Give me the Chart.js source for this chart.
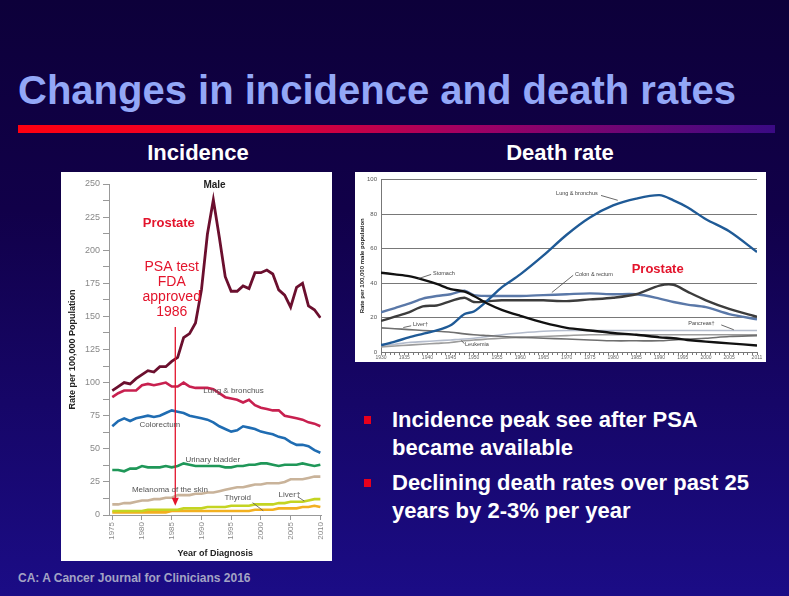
<!DOCTYPE html>
<html>
<head>
<meta charset="utf-8">
<title>Changes in incidence and death rates</title>
<script src="https://cdn.jsdelivr.net/npm/chart.js@4.4.1/dist/chart.umd.min.js"></script>
<style>
  html, body { margin: 0; padding: 0; }
  body {
    width: 789px; height: 596px; overflow: hidden; position: relative;
    background: linear-gradient(to bottom, #0d003a 0%, #110049 35%, #1b0c86 100%);
    font-family: "Liberation Sans", Arial, sans-serif;
  }
  .abs { position: absolute; white-space: nowrap; }
  #title { left: 18px; top: 70px; font-size: 40px; line-height: 40px; font-weight: bold; color: #93a7f7; }
  #rule { left: 18px; top: 125px; width: 757px; height: 8px;
    background: linear-gradient(to right, #ff0010 0%, #e8002c 30%, #a00064 60%, #3a0a84 100%); }
  .sub { top: 142px; width: 200px; text-align: center; font-size: 22px; line-height: 22px; font-weight: bold; color: #fff; }
  #incPanel { left: 61px; top: 172px; width: 271px; height: 389px; background: #fff; }
  #deathPanel { left: 355px; top: 172px; width: 411px; height: 190px; background: #fff; }
  .bullet { left: 364px; width: 7px; height: 8px; background: #e8001c; }
  .btext { left: 392px; font-size: 22px; line-height: 28px; font-weight: bold; color: #fff; }
  #source { left: 18px; top: 572px; font-size: 12px; line-height: 12px; font-weight: bold; color: #a3a3c4; }
</style>
</head>
<body>
<div id="title" class="abs">Changes in incidence and death rates</div>
<div id="rule" class="abs"></div>
<div class="abs sub" style="left:98px">Incidence</div>
<div class="abs sub" style="left:460px">Death rate</div>

<div id="incPanel" class="abs"><canvas id="incChart" width="271" height="389"></canvas></div>
<div id="deathPanel" class="abs"><canvas id="deathChart" width="411" height="190"></canvas></div>

<div class="abs bullet" style="top:416px"></div>
<div class="abs btext" style="top:406px">Incidence peak see after PSA<br>became available</div>
<div class="abs bullet" style="top:479px"></div>
<div class="abs btext" style="top:469px">Declining death rates over past 25<br>years by 2-3% per year</div>

<div id="source" class="abs">CA: A Cancer Journal for Clinicians 2016</div>

<script>
// ---- incidence (male), rate per 100,000 ----
const incYears = [1975,1976,1977,1978,1979,1980,1981,1982,1983,1984,
                  1985,1986,1987,1988,1989,1990,1991,1992,1993,1994,
                  1995,1996,1997,1998,1999,2000,2001,2002,2003,2004,
                  2005,2006,2007,2008,2009,2010];
const incProstate   = [94,97,100,99,103,106,109,108,112,112, 116,119,134,137,145,170,212,238,210,180, 169,169,173,171,183,183,185,182,170,166, 157,172,175,158,155,149];
const incLung       = [89,92,94,94,94,98,99,98,99,100, 97,97,100,97,96,96,96,95,92,89, 88,87,85,87,83,81,80,79,79,75, 74,73,72,70,69,67];
const incColorectum = [67,71,73,71,73,74,75,74,75,77, 79,78,77,75,74,73,72,70,67,65, 63,64,67,66,65,63,62,61,59,58, 55,53,53,52,49,47];
const incBladder    = [34,34,33,35,35,37,36,36,36,37, 36,37,39,38,37,37,37,37,37,36, 36,37,37,38,38,39,39,38,37,38, 38,38,39,38,37,38];
const incMelanoma   = [8,8,9,9,10,11,11,12,12,13, 13,15,15,15,16,16,17,17,18,19, 20,21,21,22,23,23,24,24,24,25, 27,27,27,28,29,29];
const incLiver      = [3,3,3,3,3,3,4,4,4,4, 4,4,5,5,5,5,6,6,6,6, 7,7,7,7,8,8,8,8,9,9, 10,10,10,11,12,12];
const incThyroid    = [2,2,2,2,2,2,2,2,2,2, 3,3,3,3,3,3,3,3,3,3, 3,3,3,3,4,4,4,4,5,5, 5,5,6,6,7,6];
const incYearTicks  = [1975,1980,1985,1990,1995,2000,2005,2010];
const incRateTicks  = [0,12.5,25,37.5,50,62.5,75,87.5,100,112.5,125,137.5,150,162.5,175,187.5,200,212.5,225,237.5,250];

// ---- death rate (male), rate per 100,000 ----
const deathYears    = [1930,1933,1936,1939,1942,1945,1948,1950,1953,1956,1960,1965,1970,1975,1980,1985,1990,1993,1996,2000,2005,2011];
const deathLung     = [4,6,8.5,10.5,12.5,15.5,22,23.5,30,37.5,45,56,68,78,85,89,91,88,84,77,70,58];
const deathStomach  = [46,45,44,42,39.5,36.5,35,32.5,28,24.5,21,17,14,12.5,11,10,8.5,8,7,6,5,3.8];
const deathColon    = [23,25.5,28,31,32.5,33.5,35.5,33,32.5,32.5,32.5,33,33.5,34,33.5,33.5,31,29,27.5,26,22,19];
const deathProstate = [18,20.5,23,26.5,27,29.5,31.5,29,29.5,30,30,30,29.5,30.5,31.5,33.5,38.5,39,35,30,25,20.5];
const deathPancreas = [4,4.5,5.5,6,6.5,7,7.5,8,9,10,11,12,12.5,12.5,12.5,12.5,12.5,12.5,12.5,12.5,12.5,12.5];
const deathLiver    = [14,13.5,13,12.5,12,11.5,10.5,10,9.5,9,8.5,8,7.5,7,6.5,6.5,6.5,7,7.5,8,9,9.5];
const deathLeukemia = [3,3.5,4,4.5,5,5.5,6.5,7,7.5,8,8.5,9,9.5,10,10,10,10,10,10,10,10,10];
const deathYearLabels = [1930,1935,1940,1945,1950,1955,1960,1965,1970,1975,1980,1985,1990,1995,2000,2005,2011];
const deathRateTicks  = [0,20,40,60,80,100];

const FONT = '"Liberation Sans", Arial, sans-serif';
Chart.defaults.font.family = FONT;

function pts(xs, ys) {
  return xs.map((x, i) => ({ x: x, y: ys[i] }));
}

function line(label, xs, ys, color, width) {
  return { label: label, data: pts(xs, ys), borderColor: color, borderWidth: width,
           pointRadius: 0, tension: 0, fill: false };
}

// small helpers for the text drawn on top of the plots
function say(ctx, chart, text, xv, yv, font, color, align) {
  const x = chart.scales.x.getPixelForValue(xv);
  const y = chart.scales.y.getPixelForValue(yv);
  ctx.font = font;
  ctx.fillStyle = color;
  ctx.textAlign = align || 'center';
  ctx.textBaseline = 'middle';
  ctx.fillText(text, x, y);
}
function lead(ctx, chart, x1, y1, x2, y2, color) {
  const sx = chart.scales.x, sy = chart.scales.y;
  ctx.strokeStyle = color || '#555';
  ctx.lineWidth = 0.8;
  ctx.beginPath();
  ctx.moveTo(sx.getPixelForValue(x1), sy.getPixelForValue(y1));
  ctx.lineTo(sx.getPixelForValue(x2), sy.getPixelForValue(y2));
  ctx.stroke();
}

const incNotes = {
  id: 'incNotes',
  afterDatasetsDraw(chart) {
    const ctx = chart.ctx;
    ctx.save();
    say(ctx, chart, 'Male', 1992.2, 249, 'bold 10px ' + FONT, '#222');
    say(ctx, chart, 'Prostate', 1984.5, 220.5, 'bold 13px ' + FONT, '#e3142c');
    const red = '#e3142c';
    say(ctx, chart, 'PSA test', 1985, 187.3, '14px ' + FONT, red);
    say(ctx, chart, 'FDA', 1985, 176, '14px ' + FONT, red);
    say(ctx, chart, 'approved', 1985, 164.7, '14px ' + FONT, red);
    say(ctx, chart, '1986', 1985, 153.3, '14px ' + FONT, red);

    // arrow down to the x axis
    const ax = chart.scales.x.getPixelForValue(1985.6);
    const ay1 = chart.scales.y.getPixelForValue(142);
    const ay2 = chart.scales.y.getPixelForValue(7);
    ctx.strokeStyle = red;
    ctx.lineWidth = 1.3;
    ctx.beginPath();
    ctx.moveTo(ax, ay1);
    ctx.lineTo(ax, ay2 - 6);
    ctx.stroke();
    ctx.fillStyle = red;
    ctx.beginPath();
    ctx.moveTo(ax - 3.5, ay2 - 8);
    ctx.lineTo(ax + 3.5, ay2 - 8);
    ctx.lineTo(ax, ay2);
    ctx.closePath();
    ctx.fill();

    const g = '#555', f = '8px ' + FONT;
    say(ctx, chart, 'Lung & bronchus', 1995.4, 93.7, f, g);
    say(ctx, chart, 'Colorectum', 1983, 68, f, g);
    say(ctx, chart, 'Urinary bladder', 1991.9, 41.5, f, g);
    say(ctx, chart, 'Melanoma of the skin', 1984.7, 18.9, f, g);
    say(ctx, chart, 'Thyroid', 1996.1, 12.8, f, g);
    lead(ctx, chart, 1998.6, 9.3, 2000.4, 3.2, g);
    say(ctx, chart, 'Liver\u2020', 2004.8, 15.6, f, g);
    lead(ctx, chart, 2006.2, 13.8, 2007.3, 10.5, g);
    ctx.restore();
  }
};

new Chart(document.getElementById('incChart'), {
  type: 'line',
  data: {
    datasets: [
      line('Prostate', incYears, incProstate, '#6b0f2e', 2.8),
      line('Lung & bronchus', incYears, incLung, '#c8204f', 2.6),
      line('Colorectum', incYears, incColorectum, '#1f6cb2', 2.6),
      line('Urinary bladder', incYears, incBladder, '#1f9758', 2.6),
      line('Melanoma of the skin', incYears, incMelanoma, '#c9b39a', 2.6),
      line('Liver', incYears, incLiver, '#c4d422', 2.6),
      line('Thyroid', incYears, incThyroid, '#f2b020', 2.6)
    ]
  },
  options: {
    responsive: false,
    animation: false,
    layout: { padding: { top: 12, right: 10, left: 0, bottom: 0 } },
    plugins: { legend: { display: false }, tooltip: { enabled: false } },
    scales: {
      x: {
        type: 'linear', min: 1974.45, max: 2010.17,
        afterBuildTicks: s => { s.ticks = incYearTicks.map(v => ({ value: v })); },
        afterFit: s => { s.height = 46; },
        ticks: { autoSkip: false, minRotation: 90, maxRotation: 90, padding: 2,
                 font: { size: 8 }, color: '#888', callback: v => String(v) },
        grid: { drawOnChartArea: false, tickLength: 5, color: '#999' },
        border: { color: '#999' },
        title: { display: true, text: 'Year of Diagnosis', color: '#222',
                 font: { size: 9, weight: 'bold' }, padding: { top: 0, bottom: 2 } }
      },
      y: {
        min: 0, max: 250,
        afterBuildTicks: s => { s.ticks = incRateTicks.map(v => ({ value: v })); },
        afterFit: s => { s.width = 48; },
        ticks: { autoSkip: false, padding: 3, font: { size: 9 }, color: '#888',
                 callback: v => (v % 25 === 0 ? String(v) : '') },
        grid: { drawOnChartArea: false, tickLength: 6, color: '#999' },
        border: { color: '#999' },
        title: { display: true, text: 'Rate per 100,000 Population', color: '#222',
                 font: { size: 9, weight: 'bold' }, padding: { top: 6, bottom: 0 } }
      }
    }
  },
  plugins: [incNotes]
});

const deathNotes = {
  id: 'deathNotes',
  afterDatasetsDraw(chart) {
    const ctx = chart.ctx;
    ctx.save();
    const g = '#444', f = '5.5px ' + FONT;
    say(ctx, chart, 'Lung & bronchus', 1972.2, 91.9, f, g);
    lead(ctx, chart, 1977.4, 90.8, 1981, 88, g);
    say(ctx, chart, 'Stomach', 1941.2, 45.3, f, g, 'left');
    lead(ctx, chart, 1938, 42.5, 1940.8, 45, g);
    say(ctx, chart, 'Colon & rectum', 1971.8, 44.7, f, g, 'left');
    lead(ctx, chart, 1971.4, 44.5, 1966.8, 34.5, g);
    say(ctx, chart, 'Liver\u2020', 1936.9, 15.7, f, g, 'left');
    lead(ctx, chart, 1934.8, 14.2, 1936.5, 15.2, g);
    say(ctx, chart, 'Leukemia', 1948.1, 4.4, f, g, 'left');
    lead(ctx, chart, 1947.3, 6.6, 1948, 4.8, g);
    say(ctx, chart, 'Pancreas\u2020', 1996.2, 16.3, f, g, 'left');
    lead(ctx, chart, 2003.3, 15.7, 2006, 12.9, g);
    say(ctx, chart, 'Prostate', 1989.6, 48.1, 'bold 13px ' + FONT, '#e3142c');
    ctx.restore();
  }
};

new Chart(document.getElementById('deathChart'), {
  type: 'line',
  data: {
    datasets: [
      line('Stomach', deathYears, deathStomach, '#111111', 2.4),
      line('Lung & bronchus', deathYears, deathLung, '#1f5a96', 2.4),
      line('Prostate', deathYears, deathProstate, '#3c3c3c', 2.4),
      line('Colon & rectum', deathYears, deathColon, '#5a78a8', 2.4),
      line('Liver', deathYears, deathLiver, '#6f6f6f', 1.6),
      line('Leukemia', deathYears, deathLeukemia, '#9c9c9c', 1.6),
      line('Pancreas', deathYears, deathPancreas, '#b4bccc', 1.6)
    ].map(d => Object.assign(d, { tension: 0.3 }))
  },
  options: {
    responsive: false,
    animation: false,
    layout: { padding: { top: 4, right: 9, left: 0, bottom: 0 } },
    plugins: { legend: { display: false }, tooltip: { enabled: false } },
    scales: {
      x: {
        type: 'linear', min: 1930, max: 2011,
        afterBuildTicks: s => {
          const t = [];
          for (let v = 1930; v <= 2011; v++) t.push({ value: v });
          s.ticks = t;
        },
        afterFit: s => { s.height = 10; },
        ticks: { autoSkip: false, maxRotation: 0, padding: 0, font: { size: 5 }, color: '#666',
                 callback: v => (deathYearLabels.includes(v) ? String(v) : '') },
        grid: { drawOnChartArea: false, tickLength: 3, color: '#777' },
        border: { color: '#777' }
      },
      y: {
        min: 0, max: 100,
        afterBuildTicks: s => { s.ticks = deathRateTicks.map(v => ({ value: v })); },
        afterFit: s => { s.width = 26; },
        ticks: { padding: 4, font: { size: 6 }, color: '#555' },
        grid: { drawTicks: false, color: '#555', lineWidth: 0.8 },
        border: { color: '#777' },
        title: { display: true, text: 'Rate per 100,000 male population', color: '#222',
                 font: { size: 6, weight: 'bold' }, padding: { top: 4, bottom: 0 } }
      }
    }
  },
  plugins: [deathNotes]
});
</script>
</body>
</html>
